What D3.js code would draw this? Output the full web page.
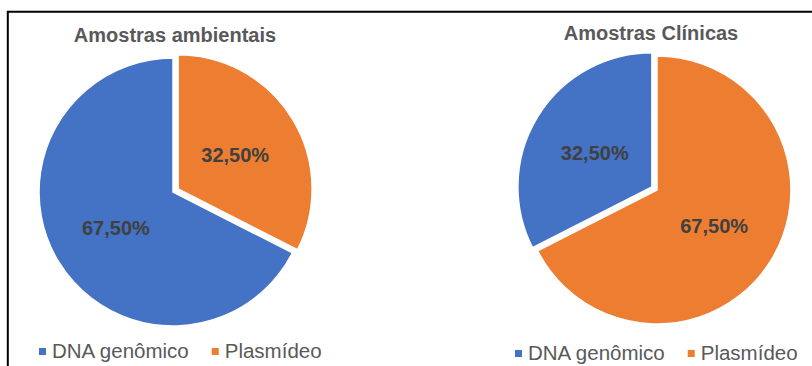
<!DOCTYPE html>
<html>
<head>
<meta charset="utf-8">
<script src="https://cdn.jsdelivr.net/npm/d3@7"></script>
<style>
  html, body { margin: 0; padding: 0; background: #fff; }
  svg { display: block; }
</style>
</head>
<body>
<svg id="chart" width="812" height="366"></svg>
<script>
// ---- data ----
const categories = ["DNA genômico", "Plasmídeo"];
const chartTitles = ["Amostras ambientais", "Amostras Clínicas"];
const ambientais = [67.5, 32.5];
const clinicas = [32.5, 67.5];
const colors = ["#4472C4", "#ED7D31"];

const svg = d3.select("#chart");
const W = 812, H = 366;
const fmt = v => d3.format(".2f")(v).replace(".", ",") + "%";

// frame (top and left borders of the pasted image)
svg.append("path")
  .attr("d", `M7.8,${H} L7.8,11.8 L${W},11.8`)
  .attr("fill", "none").attr("stroke", "#000").attr("stroke-width", 2);

const panels = [
  { title: chartTitles[0], values: ambientais, cx: 173, cy: 192, titleX: 175, titleY: 42, legendY: 358, legendX: 39 },
  { title: chartTitles[1], values: clinicas, cx: 657, cy: 190, titleX: 651, titleY: 40, legendY: 360, legendX: 515 }
];

const R = 134;
const explode = 6;

panels.forEach(p => {
  const g = svg.append("g");
  const total = d3.sum(p.values);
  // first slice starts after the second slice, which begins at 12 o'clock
  const start = 2 * Math.PI * (p.values[1] / total);
  const pie = d3.pie().sort(null).startAngle(start).endAngle(start + 2 * Math.PI);
  const arcs = pie(p.values);
  const arc = d3.arc().innerRadius(0).outerRadius(R);
  const smallest = d3.minIndex(p.values);

  arcs.forEach((a, i) => {
    const mid = (a.startAngle + a.endAngle) / 2;
    const off = i === smallest ? explode : 0;
    const dx = Math.sin(mid) * off, dy = -Math.cos(mid) * off;
    const sg = g.append("g").attr("transform", `translate(${p.cx + dx},${p.cy + dy})`);
    sg.append("path")
      .attr("d", arc(a))
      .attr("fill", colors[i])
      .attr("stroke", "#fff").attr("stroke-width", 1.5);
    const c = arc.centroid(a);
    sg.append("text")
      .attr("x", c[0]).attr("y", c[1] + 1)
      .attr("dy", "0.36em")
      .attr("text-anchor", "middle")
      .attr("font-family", "Liberation Sans, Arial, sans-serif")
      .attr("font-weight", "bold")
      .attr("font-size", 20)
      .attr("fill", "#404040")
      .text(fmt(p.values[i]));
  });

  g.append("text")
    .attr("x", p.titleX).attr("y", p.titleY)
    .attr("text-anchor", "middle")
    .attr("font-family", "Liberation Sans, Arial, sans-serif")
    .attr("font-weight", "bold")
    .attr("font-size", 20)
    .attr("fill", "#595959")
    .text(p.title);

  // legend
  let x = p.legendX;
  categories.forEach((cat, i) => {
    g.append("rect")
      .attr("x", x).attr("y", p.legendY - 10)
      .attr("width", 7).attr("height", 7)
      .attr("fill", colors[i]);
    const t = g.append("text")
      .attr("x", x + 13).attr("y", p.legendY)
      .attr("font-family", "Liberation Sans, Arial, sans-serif")
      .attr("font-size", 20.5)
      .attr("fill", "#595959")
      .text(cat);
    x += 13 + t.node().getComputedTextLength() + 23;
  });
});
</script>
</body>
</html>
